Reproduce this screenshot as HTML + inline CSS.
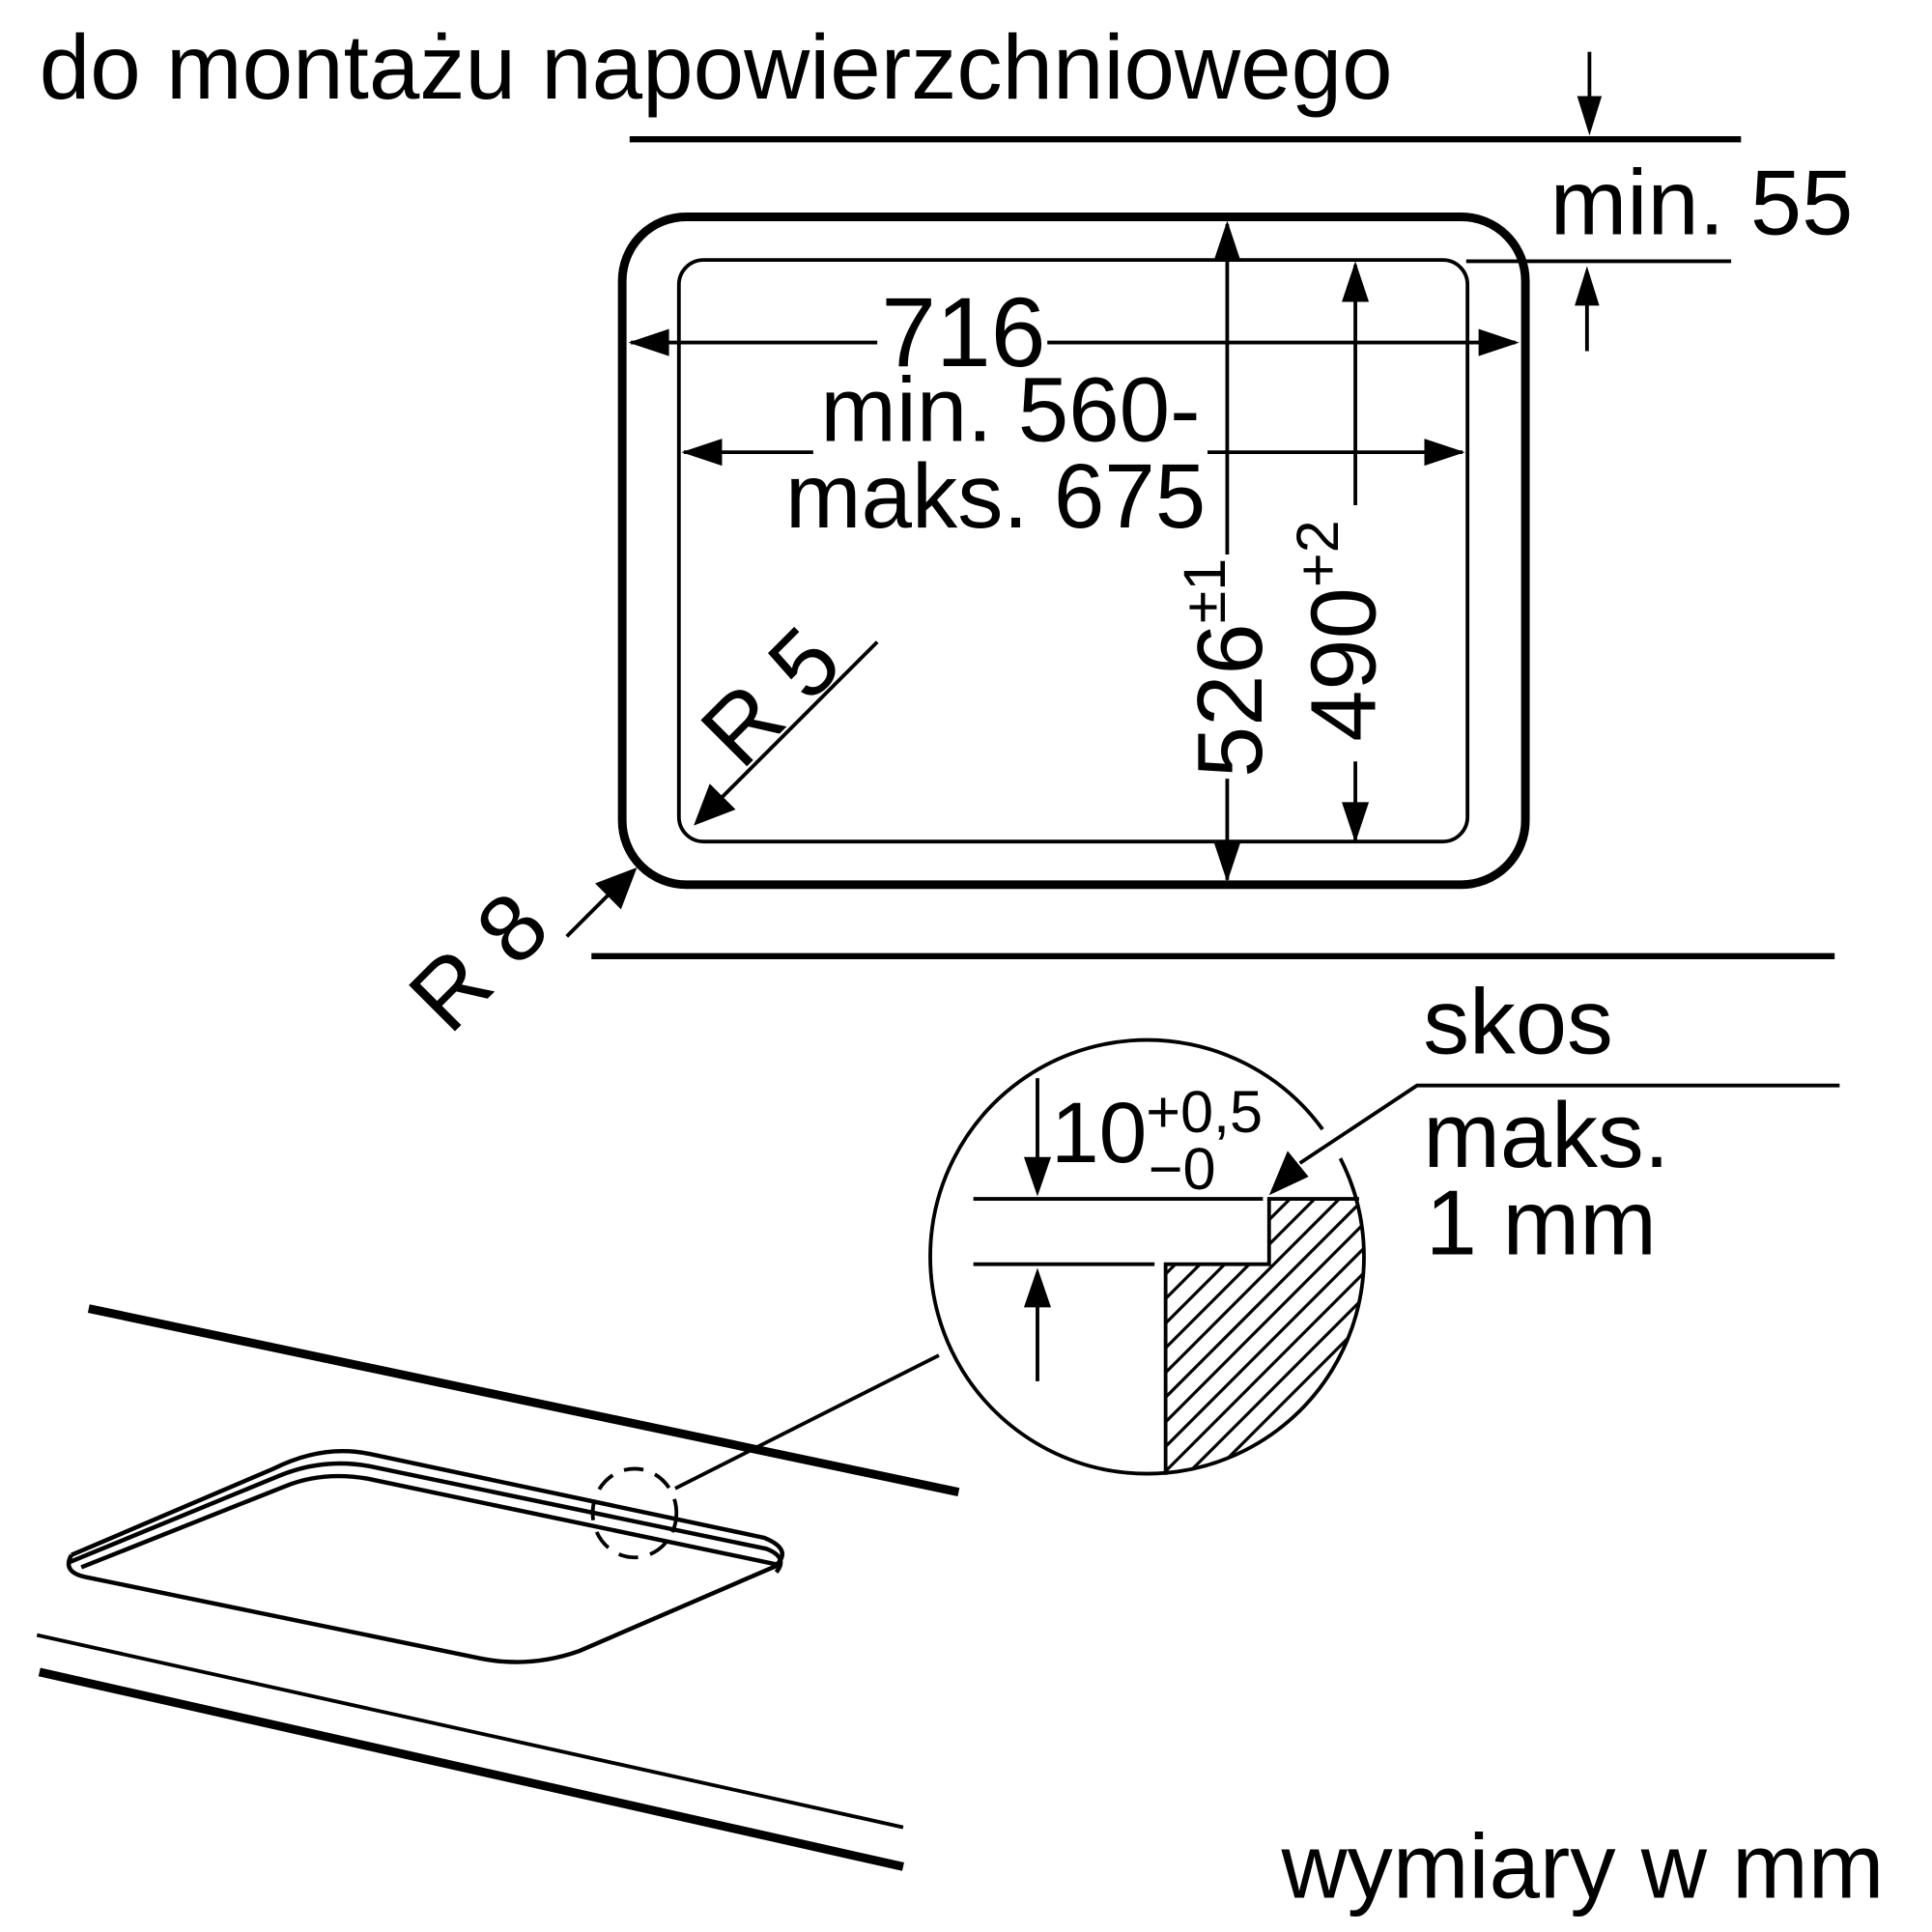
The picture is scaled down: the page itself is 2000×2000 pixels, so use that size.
<!DOCTYPE html>
<html><head><style>html,body{margin:0;padding:0;background:#fff}svg{display:block}</style></head>
<body>
<svg width="2000" height="2000" viewBox="0 0 1568 1568" xmlns="http://www.w3.org/2000/svg" font-family="Liberation Sans, sans-serif" fill="#000">
<defs>
<clipPath id="hc"><path d="M946,1026 L1030,1026 L1030,973 L1110,973 L1110,1200 L946,1200 Z"/></clipPath>
<clipPath id="cc"><circle cx="931" cy="1020" r="175"/></clipPath>
</defs>
<g stroke="#000" fill="none" stroke-linecap="butt">
<text x="32" y="80" font-size="74" stroke="none" fill="#000">do montażu napowierzchniowego</text>
<line x1="511" y1="113" x2="1413" y2="113" stroke-width="5"/>
<rect x="505" y="176" width="733" height="542" rx="52" stroke-width="7"/>
<rect x="551" y="211" width="640" height="472" rx="20" stroke-width="3"/>
<line x1="480" y1="776" x2="1489" y2="776" stroke-width="5"/>

<!-- 716 -->
<line x1="512" y1="278" x2="712" y2="278" stroke-width="3"/>
<line x1="850" y1="278" x2="1230" y2="278" stroke-width="3"/>
<path d="M510,278 L543,267 L543,289 Z M1233,278 L1200,267 L1200,289 Z" fill="#000" stroke="none"/>
<text x="782" y="297" font-size="80" text-anchor="middle" stroke="none" fill="#000">716</text>
<!-- 560 -->
<line x1="555" y1="367" x2="660" y2="367" stroke-width="3"/>
<line x1="980" y1="367" x2="1187" y2="367" stroke-width="3"/>
<path d="M553,367 L586,356 L586,378 Z M1189,367 L1156,356 L1156,378 Z" fill="#000" stroke="none"/>
<text x="820" y="358" font-size="74" text-anchor="middle" stroke="none" fill="#000">min. 560-</text>
<text x="808" y="428" font-size="74" text-anchor="middle" stroke="none" fill="#000">maks. 675</text>
<!-- 526 -->
<line x1="996" y1="182" x2="996" y2="450" stroke-width="3"/>
<line x1="996" y1="632" x2="996" y2="714" stroke-width="3"/>
<path d="M996,179 L985,212 L1007,212 Z M996,716 L985,683 L1007,683 Z" fill="#000" stroke="none"/>
<text transform="translate(1024,542) rotate(-90)" font-size="75" text-anchor="middle" stroke="none" fill="#000">526<tspan font-size="48" dy="-30">±1</tspan></text>
<!-- 490 -->
<line x1="1100" y1="215" x2="1100" y2="410" stroke-width="3"/>
<line x1="1100" y1="618" x2="1100" y2="682" stroke-width="3"/>
<path d="M1100,212 L1089,245 L1111,245 Z M1100,684 L1089,651 L1111,651 Z" fill="#000" stroke="none"/>
<text transform="translate(1116,512) rotate(-90)" font-size="75" text-anchor="middle" stroke="none" fill="#000">490<tspan font-size="48" dy="-30">+2</tspan></text>
<!-- min 55 -->
<line x1="1290" y1="42" x2="1290" y2="85" stroke-width="3"/>
<path d="M1290,110 L1280,78 L1300,78 Z" fill="#000" stroke="none"/>
<line x1="1190" y1="212" x2="1405" y2="212" stroke-width="3"/>
<line x1="1288" y1="240" x2="1288" y2="285" stroke-width="3"/>
<path d="M1288,216 L1278,248 L1298,248 Z" fill="#000" stroke="none"/>
<text x="1258" y="190" font-size="75" stroke="none" fill="#000">min. 55</text>
<!-- R5 -->
<line x1="712" y1="521" x2="585" y2="648" stroke-width="3"/>
<path d="M563,670 L576,636 L597,657 Z" fill="#000" stroke="none"/>
<text transform="translate(625,565) rotate(-45)" y="27" font-size="77" text-anchor="middle" stroke="none" fill="#000">R 5</text>
<!-- R8 -->
<line x1="460" y1="760" x2="495" y2="725" stroke-width="3"/>
<path d="M517,704 L504,738 L483,717 Z" fill="#000" stroke="none"/>
<text transform="translate(388,780) rotate(-45)" y="27" font-size="77" text-anchor="middle" stroke="none" fill="#000">R 8</text>

<!-- detail circle -->
<path d="M1073.4,916.6 A176,176 0 1 0 1087.8,940.1" stroke-width="3"/>
<g clip-path="url(#cc)"><g clip-path="url(#hc)" stroke-width="2.5">
<line x1="900" y1="1060" x2="1200" y2="760"/><line x1="900" y1="1080" x2="1200" y2="780"/>
<line x1="900" y1="1100" x2="1200" y2="800"/><line x1="900" y1="1120" x2="1200" y2="820"/>
<line x1="900" y1="1140" x2="1200" y2="840"/><line x1="900" y1="1160" x2="1200" y2="860"/>
<line x1="900" y1="1180" x2="1200" y2="880"/><line x1="900" y1="1200" x2="1200" y2="900"/>
<line x1="900" y1="1220" x2="1200" y2="920"/><line x1="900" y1="1240" x2="1200" y2="940"/>
<line x1="900" y1="1260" x2="1200" y2="960"/><line x1="900" y1="1280" x2="1200" y2="980"/>
<line x1="900" y1="1300" x2="1200" y2="1000"/><line x1="900" y1="1320" x2="1200" y2="1020"/>
<line x1="900" y1="1340" x2="1200" y2="1040"/><line x1="900" y1="1360" x2="1200" y2="1060"/>
<line x1="900" y1="1380" x2="1200" y2="1080"/><line x1="900" y1="1400" x2="1200" y2="1100"/>
</g></g>
<path d="M946,1197 L946,1026 L1030,1026 L1030,973 L1103,973" stroke-width="3"/>
<line x1="790" y1="973" x2="1025" y2="973" stroke-width="3"/>
<line x1="790" y1="1026" x2="937" y2="1026" stroke-width="3"/>
<line x1="842" y1="875" x2="842" y2="945" stroke-width="3"/>
<path d="M842,971 L831,939 L853,939 Z" fill="#000" stroke="none"/>
<line x1="842" y1="1121" x2="842" y2="1055" stroke-width="3"/>
<path d="M842,1029 L831,1061 L853,1061 Z" fill="#000" stroke="none"/>
<text x="853" y="943" font-size="70" stroke="none" fill="#000">10</text>
<text x="930" y="919" font-size="48" stroke="none" fill="#000">+0,5</text>
<text x="932" y="965" font-size="48" stroke="none" fill="#000">−0</text>
<path d="M1493,881 L1150,881 L1055,944" stroke-width="3"/>
<path d="M1030,970 L1045,934 L1062,955 Z" fill="#000" stroke="none"/>
<text x="1155" y="855" font-size="75" stroke="none" fill="#000">skos</text>
<text x="1155" y="947" font-size="75" stroke="none" fill="#000">maks.</text>
<text x="1157" y="1018" font-size="75" stroke="none" fill="#000">1 mm</text>

<!-- perspective -->
<line x1="72" y1="1062" x2="778" y2="1211" stroke-width="7"/>
<line x1="30" y1="1327" x2="733" y2="1483" stroke-width="3"/>
<line x1="32" y1="1357" x2="733" y2="1515" stroke-width="7"/>
<line x1="762" y1="1100" x2="548" y2="1208" stroke-width="3"/>
<path d="M58,1262 L222,1192 Q262,1172 300,1180 L620,1248 Q645,1258 628,1272" stroke-width="3.5"/>
<path d="M56,1268 L226,1198 Q262,1183 300,1190 L622,1257 Q640,1264 630,1276" stroke-width="3.5"/>
<path d="M66,1272 L232,1206 Q262,1194 298,1200 L632,1270" stroke-width="3.5"/>
<path d="M58,1262 Q50,1276 70,1280 L390,1346 Q430,1354 470,1340 L632,1270" stroke-width="3.5"/>
<ellipse cx="515" cy="1228" rx="34" ry="36" stroke-width="3" stroke-dasharray="16,10"/>

<text x="1040" y="1540" font-size="74" stroke="none" fill="#000">wymiary w mm</text>
</g>
</svg>
</body></html>
